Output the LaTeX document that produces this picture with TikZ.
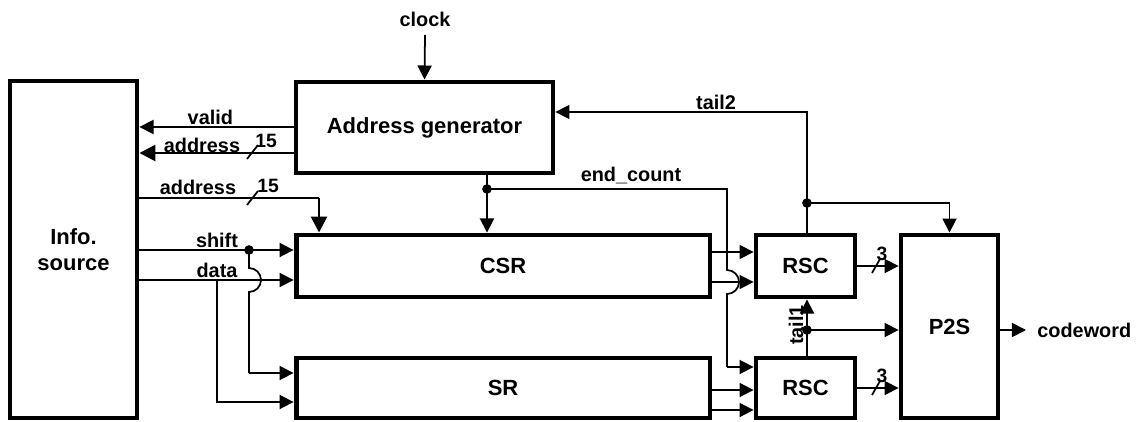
\documentclass[tikz,border=0pt]{standalone}
\usepackage{fontspec}
\setmainfont{Liberation Sans}
\usepackage{tikz}
\usetikzlibrary{arrows.meta, calc}
\tikzset{
    block/.style = {draw, line width=2.8pt, inner sep=0pt, align=center,
                    font=\fontsize{12.5}{15}\selectfont\bfseries},
    wire/.style = {line width=1pt},
    bus/.style = {line width=1.5pt},
    sig/.style = {-{Triangle[length=8pt, width=8pt]}, line width=1pt},
    bigsig/.style = {-{Triangle[length=9pt, width=9pt]}, line width=1.5pt},
    lbl/.style = {font=\fontsize{11.3}{13}\selectfont\bfseries, inner sep=1pt},
    num/.style = {font=\fontsize{11}{13}\selectfont\bfseries, inner sep=0pt},
    dot/.style = {circle, fill, inner sep=0pt, minimum size=5.5pt},
}

\begin{document}
\begin{tikzpicture}[x=0.02cm, y=-0.02cm]
        \useasboundingbox (0,0) rectangle (1142,422);
        % Blocks
        \node[block, minimum width=2.54cm, minimum height=6.74cm] (info) at (73.5,249.5) {Info.\\source};
        \node[block, minimum width=5.14cm, minimum height=1.82cm] (addrgen) at (424.5,127.5) {Address generator};
        \node[block, minimum width=8.28cm, minimum height=1.24cm] (csr) at (503,266) {CSR};
        \node[block, minimum width=8.28cm, minimum height=1.2cm] (sr) at (503,388) {SR};
        \node[block, minimum width=1.98cm, minimum height=1.24cm] (rsca) at (805.5,266) {RSC};
        \node[block, minimum width=1.98cm, minimum height=1.2cm] (rscb) at (805.5,388) {RSC};
        \node[block, minimum width=1.94cm, minimum height=3.66cm] (ptos) at (949.5,326.5) {P2S};
        % Branch points
        \node[dot] (ecdot) at (487,189) {};
        \node[dot] (shdot) at (249,250) {};
        \node[dot] (t2dot) at (807,203) {};
        \node[dot] (t1dot) at (807,330) {};
        % Signal levels
        \coordinate (vld) at (0,127);
        \coordinate (adra) at (0,153);
        \coordinate (adrb) at (319,198);
        \coordinate (dat) at (217,280);
        \coordinate (ecturn) at (727,189);
        \coordinate (t2turn) at (807,112);
        % Clock
        \node[lbl] (clocklbl) at (425,19) {clock};
        \draw[sig] (425,35) -- (addrgen.north);
        % Address generator to info source
        \draw[sig] (addrgen.west |- vld) -- (info.east |- vld)
              node[lbl, pos=0.54, above] (validlbl) {valid};
        \draw[bigsig] (addrgen.west |- adra) -- (info.east |- adra);
        \node[lbl, anchor=south] (adralbl) at (202,155) {address};
        \draw[wire] (247,159) -- (258,145);
        \node[num] (adranum) at (266,141) {15};
        % Address into CSR
        \draw[bus] (info.east |- adrb) -- (adrb);
        \draw[bigsig] (adrb) -- (adrb |- csr.north);
        \node[lbl, anchor=south] (adrblbl) at (198,197) {address};
        \draw[wire] (247,205) -- (258,191);
        \node[num] (adrbnum) at (268,186) {15};
        % Address generator to CSR, end_count
        \draw[sig] (ecdot |- addrgen.south) -- (ecdot |- csr.north);
        \draw[wire] (ecdot.center) -- (ecturn) -- (727,270)
              arc[start angle=-90, end angle=90, radius=12] -- (727,367);
        \draw[sig] (727,367) -- (rscb.west |- 0,367);
        \node[lbl, anchor=south] (eclbl) at (631,186) {end\_count};
        % shift and data
        \draw[sig] (info.east |- shdot) -- (csr.west |- shdot);
        \node[lbl, anchor=south] (shiftlbl) at (217,250) {shift};
        \draw[sig] (info.east |- dat) -- (csr.west |- dat);
        \node[lbl, anchor=south] (datalbl) at (217,280) {data};
        \draw[wire] (shdot.center) -- (249,268)
              arc[start angle=-90, end angle=90, radius=12] -- (249,373);
        \draw[sig] (249,373) -- (sr.west |- 0,373);
        \draw[sig] (dat) -- (217,402) -- (sr.west |- 0,402);
        % CSR and SR to RSC
        \draw[sig] (csr.east |- 0,252) -- (rsca.west |- 0,252);
        \draw[sig] (csr.east |- 0,282) -- (rsca.west |- 0,282);
        \draw[sig] (sr.east |- 0,390) -- (rscb.west |- 0,390);
        \draw[sig] (sr.east |- 0,410) -- (rscb.west |- 0,410);
        % tail2 and tail1
        \draw[sig] (rsca.north -| t2dot) -- (t2turn) -- (addrgen.east |- t2turn);
        \node[lbl, anchor=south] (t2lbl) at (716,112) {tail2};
        \draw[sig] (t2dot.center) -| (ptos.north);
        \draw[sig] (rscb.north -| t1dot) -- (rsca.south -| t1dot);
        \node[lbl, rotate=90] (t1lbl) at (796,325) {tail1};
        \draw[sig] (t1dot.center) -- (ptos.west |- t1dot);
        % RSC to P2S
        \draw[sig] (rsca.east) -- (ptos.west |- rsca.east);
        \draw[wire] (872,273) -- (880,259);
        \node[num] (rscanum) at (882,254) {3};
        \draw[sig] (rscb.east) -- (ptos.west |- rscb.east);
        \draw[wire] (872,395) -- (880,381);
        \node[num] (rscbnum) at (882,376) {3};
        % Output
        \draw[sig] (ptos.east |- t1dot) -- (1026,330)
              node[lbl, right=5pt] (cwlbl) {codeword};
      \end{tikzpicture}
\end{document}
